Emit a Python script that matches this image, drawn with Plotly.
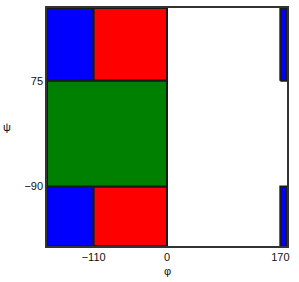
import plotly.graph_objects as go

# Region data (phi / psi bounds in degrees)
phi_min = [-180, -180, -110, -110, -180, 170, 170]
phi_max = [-110, -110, 0, 0, 0, 180, 180]
psi_min = [70, -180, 70, -180, -90, 70, -180]
psi_max = [180, -90, 180, -90, 70, 180, -90]
colors = ["blue", "blue", "red", "red", "green", "blue", "blue"]

x_ticks = [-110, 0, 170]
y_ticks = [-90, 70]
tick_text_x = ["\u2212110", "0", "170"]
tick_text_y = ["\u221290", "75"]

fig = go.Figure()
for x0, x1, y0, y1, c in zip(phi_min, phi_max, psi_min, psi_max, colors):
    fig.add_trace(go.Scatter(
        x=[x0, x1, x1, x0, x0], y=[y0, y0, y1, y1, y0],
        mode="lines", fill="toself", fillcolor=c,
        line=dict(color="#1a1a1a", width=2),
        hoverinfo="skip", showlegend=False))

font = dict(family="Liberation Sans, Arial, sans-serif", size=11, color="#111111")
fig.update_layout(
    width=299, height=282,
    margin=dict(l=47, r=12, t=6, b=36),
    paper_bgcolor="white", plot_bgcolor="white",
    font=font,
    xaxis=dict(range=[-180, 180], tickvals=x_ticks, ticktext=tick_text_x,
               showgrid=False, zeroline=False, showline=True, mirror=True,
               linecolor="#333333", linewidth=1.5, ticks="", ticklen=0),
    yaxis=dict(range=[-180, 180], tickvals=y_ticks, ticktext=tick_text_y,
               showgrid=False, zeroline=False, showline=True, mirror=True,
               linecolor="#333333", linewidth=1.5, ticks="", ticklen=0),
    annotations=[
        dict(text="\u03c6", x=0.5, y=-0.106, xref="paper", yref="paper",
             xanchor="center", yanchor="middle", showarrow=False, font=font),
        dict(text="\u03c8", x=-0.165, y=0.5, xref="paper", yref="paper",
             xanchor="center", yanchor="middle", showarrow=False, font=font),
    ],
)
fig.write_html("out.html")
